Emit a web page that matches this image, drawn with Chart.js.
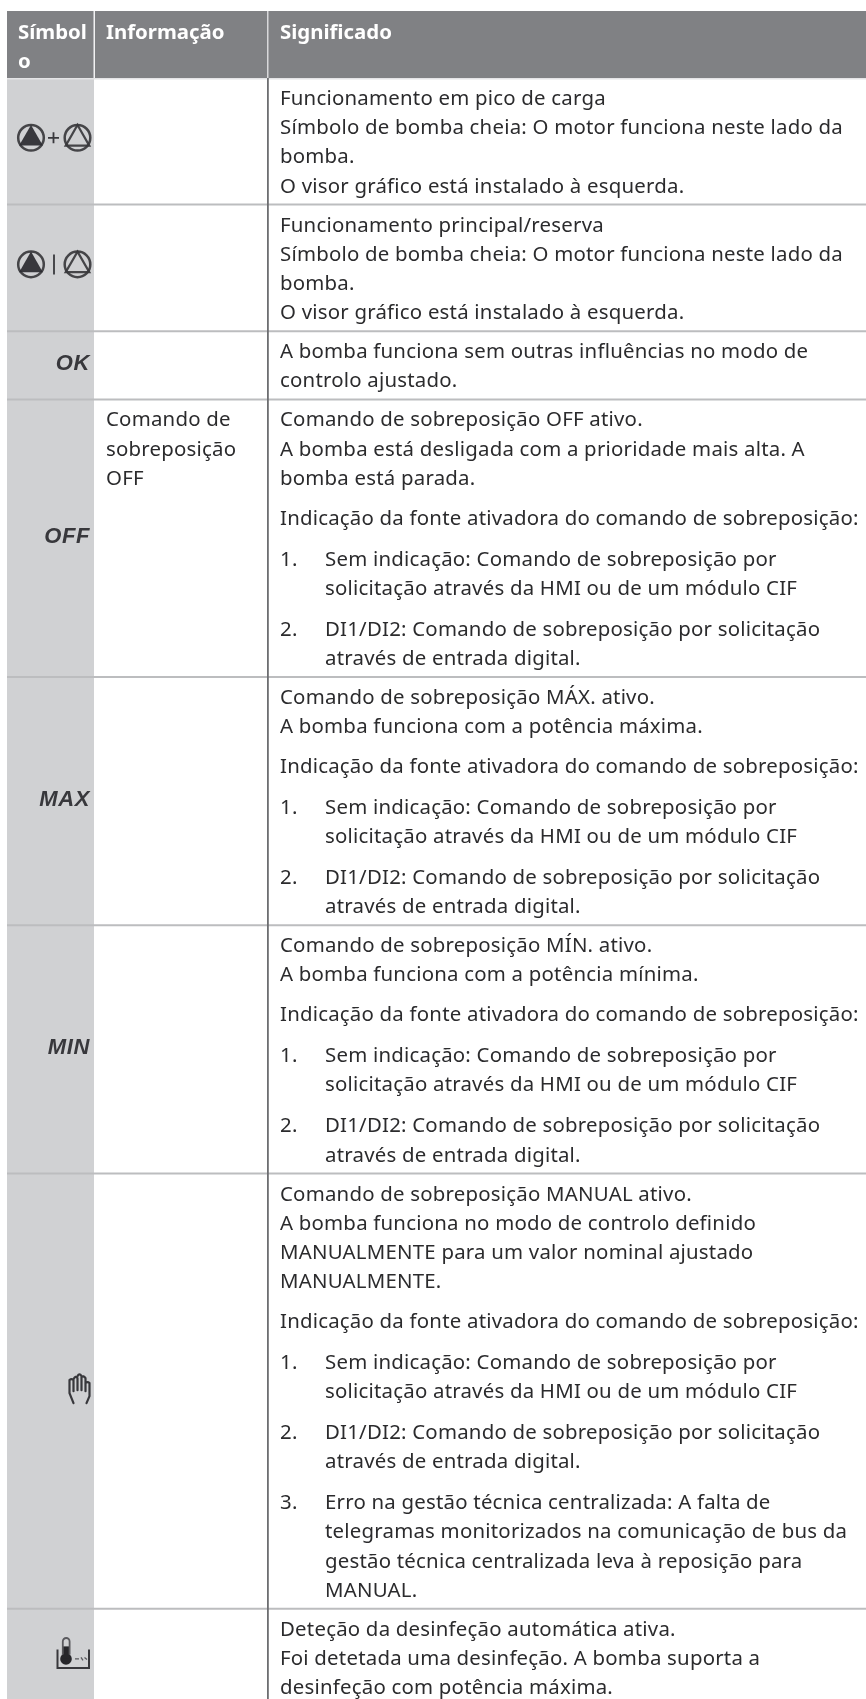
<!DOCTYPE html>
<html><head><meta charset="utf-8">
<style>html,body{margin:0;padding:0;background:#fff}canvas{display:block}</style>
<script src="https://cdn.jsdelivr.net/npm/chart.js@4/dist/chart.umd.min.js"></script>
</head><body><canvas id="c" width="866" height="1699"></canvas>
<script>
// ---- table content ----
const headers = ["Símbol|o", "Informação", "Significado"];
const symbols = ["pumpPlus", "pumpBar", "OK", "OFF", "MAX", "MIN", "hand", "thermo"];
const infoTexts = ["", "", "", "Comando de|sobreposição|OFF", "", "", "", ""];
const sourceIntro = "Indicação da fonte ativadora do comando de sobreposição:";
const item1 = ["Sem indicação: Comando de sobreposição por", "solicitação através da HMI ou de um módulo CIF"];
const item2 = ["DI1/DI2: Comando de sobreposição por solicitação", "através de entrada digital."];
const item3 = ["Erro na gestão técnica centralizada: A falta de", "telegramas monitorizados na comunicação de bus da", "gestão técnica centralizada leva à reposição para", "MANUAL."];
const row1 = ["Funcionamento em pico de carga", "Símbolo de bomba cheia: O motor funciona neste lado da", "bomba.", "O visor gráfico está instalado à esquerda."];
const row2 = ["Funcionamento principal/reserva", "Símbolo de bomba cheia: O motor funciona neste lado da", "bomba.", "O visor gráfico está instalado à esquerda."];
const row3 = ["A bomba funciona sem outras influências no modo de", "controlo ajustado."];
const row4 = ["Comando de sobreposição OFF ativo.", "A bomba está desligada com a prioridade mais alta. A", "bomba está parada."];
const row5 = ["Comando de sobreposição MÁX. ativo.", "A bomba funciona com a potência máxima."];
const row6 = ["Comando de sobreposição MÍN. ativo.", "A bomba funciona com a potência mínima."];
const row7 = ["Comando de sobreposição MANUAL ativo.", "A bomba funciona no modo de controlo definido", "MANUALMENTE para um valor nominal ajustado", "MANUALMENTE."];
const row8 = ["Deteção da desinfeção automática ativa.", "Foi detetada uma desinfeção. A bomba suporta a", "desinfeção com potência máxima."];
const meanings = [
  {intro: row1}, {intro: row2}, {intro: row3},
  {intro: row4, items: [item1, item2]},
  {intro: row5, items: [item1, item2]},
  {intro: row6, items: [item1, item2]},
  {intro: row7, items: [item1, item2, item3]},
  {intro: row8}
];

// ---- layout & style ----
const W = 866, H = 1699;
const L = {left:7, col1:94, col2:268, headTop:11, headBottom:78, textX:280, indent:45, first:27, line:29.2, para:39.7, list:41, tail:12};
const C = {head:'#808184', sym:'#d0d1d3', rule:'#bcbdbf', vline:'#6d6e71', text:'#2b2b2d', icon:'#38383c'};
const FONT = '"Noto Sans"';
const BODY = '20.4px ' + FONT, BOLD = 'bold 20.4px ' + FONT;
const SPACING = '0.22px';

// Row layout derived from the line counts
function layoutRows() {
  let y = L.headBottom;
  return meanings.map(m => {
    const top = y, lines = [];
    let b = top + L.first;
    m.intro.forEach((t, i) => { if (i) b += L.line; lines.push({t, b, x:0}); });
    if (m.items) {
      b += L.para; lines.push({t:sourceIntro, b, x:0});
      m.items.forEach((it, n) => {
        b += L.list; lines.push({t:(n+1)+'.', b, x:0});
        it.forEach((t, i) => { if (i) b += L.line; lines.push({t, b, x:L.indent}); });
      });
    }
    y = b + L.tail;
    return {top, bottom:y, lines};
  });
}
const rows = layoutRows();
const ruleSets = rows.slice(0, -1).map(r => [{x:L.left, y:r.bottom}, {x:W, y:r.bottom}]);

function pump(ctx, x, y, filled) {
  ctx.save();
  ctx.strokeStyle = C.icon; ctx.lineWidth = 2.5; ctx.globalAlpha = .92;
  ctx.beginPath(); ctx.arc(x, y, 12.8, 0, Math.PI*2); ctx.stroke();
  ctx.beginPath(); ctx.moveTo(x, y-12.8); ctx.lineTo(x+11.8, y+7.8); ctx.lineTo(x-11.8, y+7.8); ctx.closePath();
  if (filled) { ctx.fillStyle = '#2a2a30'; ctx.fill(); } else { ctx.lineWidth = 2.2; ctx.stroke(); }
  ctx.restore();
}
function drawSymbol(ctx, s, cy) {
  ctx.save();
  ctx.filter = 'blur(0.6px)';
  ctx.fillStyle = C.icon; ctx.strokeStyle = C.icon;
  if (s === 'pumpPlus' || s === 'pumpBar') {
    pump(ctx, 31, cy, true); pump(ctx, 77.5, cy, false);
    ctx.lineWidth = 1.8; ctx.beginPath();
    if (s === 'pumpPlus') { ctx.moveTo(48, cy); ctx.lineTo(59, cy); ctx.moveTo(53.5, cy-5.5); ctx.lineTo(53.5, cy+5.5); }
    else { ctx.moveTo(54, cy-10); ctx.lineTo(54, cy+10); }
    ctx.stroke();
  } else if (s === 'hand') {
    ctx.translate(79.5, cy + 0.5);
    ctx.lineWidth = 2.2; ctx.lineJoin = 'round'; ctx.lineCap = 'round';
    ctx.beginPath();
    // wrist, left side, four fingers, thumb
    ctx.moveTo(-6, 15);
    ctx.lineTo(-10, 5); ctx.lineTo(-10, -8); ctx.quadraticCurveTo(-8, -10, -6, -8);
    ctx.lineTo(-6, 3);
    ctx.moveTo(-6, -9); ctx.quadraticCurveTo(-4, -13, -2, -10); ctx.lineTo(-2, 2);
    ctx.moveTo(-2, -12); ctx.quadraticCurveTo(0, -15.5, 2, -12); ctx.lineTo(2, 2);
    ctx.moveTo(2, -11); ctx.quadraticCurveTo(4, -13, 6, -10); ctx.lineTo(6, 3);
    ctx.moveTo(6, -5); ctx.quadraticCurveTo(8, -7, 10, -5); ctx.lineTo(10, 8); ctx.lineTo(7, 15);
    ctx.stroke();
  } else if (s === 'thermo') {
    ctx.lineWidth = 2;
    ctx.beginPath(); ctx.moveTo(57.5, cy-1); ctx.lineTo(57.5, cy+17.5); ctx.lineTo(89, cy+17.5); ctx.lineTo(89, cy-1); ctx.stroke();
    ctx.fillStyle = '#26262a';
    ctx.beginPath(); ctx.arc(66, cy+8.5, 5.8, 0, Math.PI*2); ctx.fill();
    ctx.fillRect(63, cy-4, 6.2, 12);
    ctx.lineWidth = 1.8; ctx.strokeStyle = '#5a5a5e';
    ctx.beginPath(); ctx.moveTo(62.8, cy+4); ctx.lineTo(62.8, cy-9); ctx.arc(66.2, cy-9, 3.4, Math.PI, 0); ctx.lineTo(69.6, cy+4); ctx.stroke();
    ctx.lineWidth = 1.3; ctx.beginPath(); ctx.moveTo(75, cy+8.5); ctx.lineTo(79, cy+8.5); ctx.moveTo(81, cy+7); ctx.lineTo(83, cy+10); ctx.moveTo(84.5, cy+7); ctx.lineTo(87, cy+9); ctx.stroke();
  } else {
    ctx.font = 'italic bold 22px "Liberation Sans"';
    ctx.letterSpacing = '0.6px';
    ctx.textAlign = 'right'; ctx.textBaseline = 'alphabetic';
    ctx.fillText(s, 90, cy + 8);
  }
  ctx.restore();
}

const tablePlugin = {
  id: 'table',
  beforeDatasetsDraw(chart) {
    const ctx = chart.ctx, X = chart.scales.x, Y = chart.scales.y;
    const px = v => X.getPixelForValue(v), py = v => Y.getPixelForValue(v);
    ctx.save();
    ctx.fillStyle = '#fff'; ctx.fillRect(0, 0, W, H);
    ctx.fillStyle = C.sym; ctx.fillRect(px(L.left), py(L.headBottom), px(L.col1)-px(L.left), py(H)-py(L.headBottom));
    ctx.fillStyle = C.head; ctx.fillRect(px(L.left), py(L.headTop), px(W)-px(L.left), py(L.headBottom)-py(L.headTop));
    ctx.fillStyle = '#e4e4e6';
    ctx.fillRect(px(L.left), py(L.headBottom), px(W)-px(L.left), 1.5);
    ctx.restore();
  },
  afterDatasetsDraw(chart) {
    const ctx = chart.ctx, X = chart.scales.x, Y = chart.scales.y;
    const px = v => X.getPixelForValue(v), py = v => Y.getPixelForValue(v);
    ctx.save();
    // vertical rules
    ctx.fillStyle = '#f2f2f3';
    ctx.fillRect(px(L.col1)-.5, py(L.headTop), 1.5, py(L.headBottom)-py(L.headTop));
    ctx.fillStyle = '#d8d8da';
    ctx.fillRect(px(L.col2)-1, py(L.headTop), 1.5, py(L.headBottom)-py(L.headTop));
    ctx.fillStyle = C.vline;
    ctx.fillRect(px(L.col2)-1, py(L.headBottom), 1.8, py(H)-py(L.headBottom));
    // header text
    ctx.textBaseline = 'alphabetic'; ctx.textAlign = 'left';
    ctx.letterSpacing = '0px';
    ctx.fillStyle = '#ffffff'; ctx.font = BOLD;
    const hx = [L.left+11, L.col1+12, L.textX];
    headers.forEach((h, i) => h.split('|').forEach((t, j) => ctx.fillText(t, px(hx[i]), py(39 + j*29))));
    // body text
    ctx.letterSpacing = SPACING;
    ctx.fillStyle = C.text; ctx.font = BODY;
    rows.forEach((r, i) => {
      r.lines.forEach(l => ctx.fillText(l.t, px(L.textX + l.x), py(l.b)));
      infoTexts[i].split('|').forEach((t, j) => { if (t) ctx.fillText(t, px(L.col1+12), py(r.top + L.first + j*L.line)); });
    });
    // symbols
    rows.forEach((r, i) => drawSymbol(ctx, symbols[i], py((r.top + Math.min(r.bottom, H))/2 - 3.5)));
    ctx.restore();
  }
};

new Chart(document.getElementById('c').getContext('2d'), {
  type: 'scatter',
  data: { datasets: ruleSets.map(d => ({data:d, showLine:true, pointRadius:0, borderColor:C.rule, borderWidth:2})) },
  options: {
    responsive:false, animation:false, devicePixelRatio:1,
    layout:{padding:0}, events:[],
    plugins:{legend:{display:false}, tooltip:{enabled:false}},
    scales:{
      x:{type:'linear', min:0, max:W, display:false},
      y:{type:'linear', min:0, max:H, reverse:true, display:false}
    }
  },
  plugins:[tablePlugin]
});
</script></body></html>
